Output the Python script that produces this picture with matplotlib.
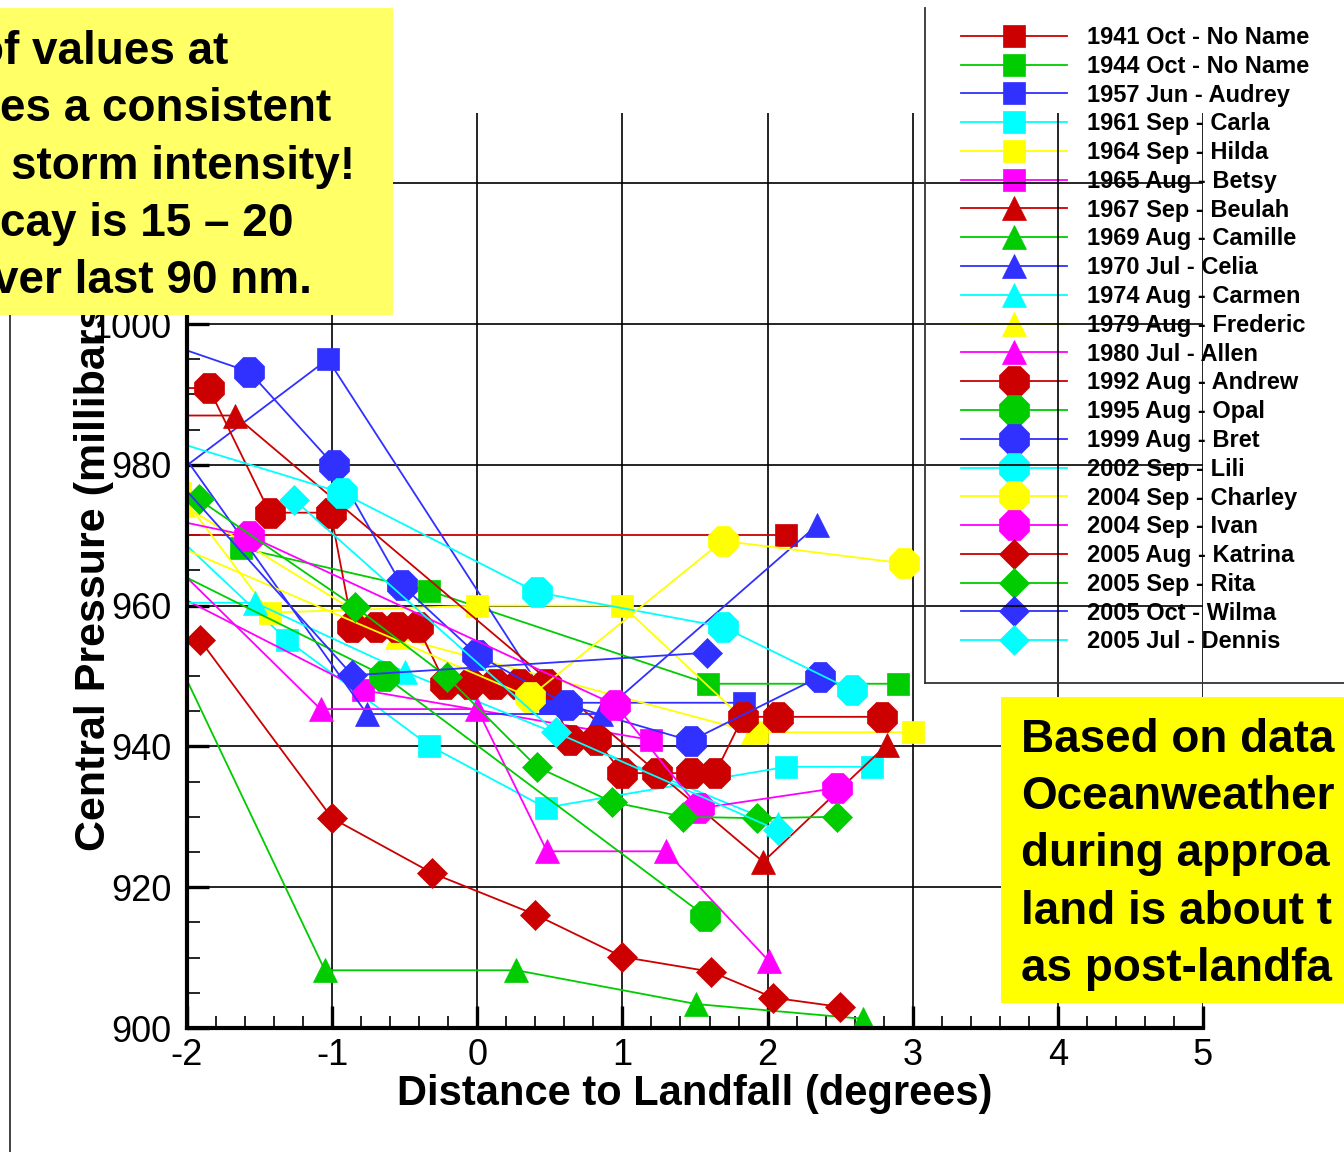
import matplotlib
matplotlib.use("Agg")
import matplotlib.pyplot as plt
from matplotlib.lines import Line2D
from matplotlib.patches import Rectangle
from matplotlib.ticker import MultipleLocator

plt.rcParams["font.family"] = ["Liberation Sans", "DejaVu Sans"]
plt.rcParams["axes.unicode_minus"] = False

W, H = 1344, 1152

RED, GREEN, BLUE = "#cc0000", "#00cc00", "#3030ff"
CYAN, YELLOW, MAGENTA = "#00ffff", "#ffff00", "#ff00ff"

# distance to landfall (degrees) / central pressure (mb)
x_1941 = [-2.15, 2.13]
p_1941 = [970.0, 970.0]
x_1944 = [-1.63, -0.33, 1.59, 2.90]
p_1944 = [968.2, 962.1, 948.9, 948.9]
x_audrey = [-2.15, -1.03, 0.50, 1.84]
p_audrey = [977.6, 995.0, 946.2, 946.2]
x_carla = [-2.15, -1.31, -0.33, 0.47, 2.13, 2.72]
p_carla = [971.4, 955.1, 940.1, 931.3, 937.1, 937.1]
x_hilda = [-2.05, -1.43, 0.0, 1.0, 1.93, 3.0]
p_hilda = [976.0, 959.0, 960.0, 960.0, 942.0, 942.0]
x_betsy = [-2.15, -0.79, 1.20]
p_betsy = [962.3, 948.0, 940.9]
x_beulah = [-2.15, -1.67, 1.97, 2.82]
p_beulah = [987.0, 987.0, 923.6, 940.2]
x_camille = [-2.15, -1.05, 0.27, 1.51, 2.66]
p_camille = [955.9, 908.2, 908.2, 903.4, 901.3]
x_celia = [-2.15, -0.76, 0.85, 2.34]
p_celia = [985.0, 944.6, 944.6, 971.4]
x_carmen = [-2.15, -1.53, -0.50, 2.07]
p_carmen = [960.4, 960.4, 950.6, 929.0]
x_frederic = [-2.03, -0.55, 1.90]
p_frederic = [974.3, 955.5, 942.0]
x_allen = [-2.15, -1.08, 0.0, 0.48, 1.30, 2.01]
p_allen = [967.0, 945.3, 945.3, 925.1, 925.1, 909.5]
x_andrew = [-2.15, -1.85, -1.43, -1.01, -0.86, -0.70, -0.55, -0.41, -0.22,
            -0.05, 0.12, 0.29, 0.47, 0.64, 0.82, 1.00, 1.24, 1.47, 1.64,
            1.83, 2.07, 2.79]
p_andrew = [990.9, 990.9, 973.2, 973.2, 957.0, 957.0, 957.0, 957.0, 948.9,
            948.9, 948.9, 948.9, 948.9, 940.9, 940.9, 936.2, 936.2, 936.2,
            936.2, 944.2, 944.2, 944.2]
x_opal = [-2.15, -0.64, 1.57]
p_opal = [965.5, 950.0, 915.9]
x_bret = [-2.15, -1.57, -0.99, -0.52, 0.0, 0.62, 1.47, 2.36]
p_bret = [997.3, 993.2, 980.0, 962.9, 953.0, 945.9, 940.8, 949.9]
x_lili = [-2.15, -0.93, 0.41, 1.69, 2.58]
p_lili = [983.7, 976.0, 961.9, 957.0, 948.0]
x_charley = [-2.15, 0.36, 1.69, 2.94]
p_charley = [969.2, 947.0, 969.2, 966.0]
x_ivan = [-2.15, -1.57, 0.95, 1.53, 2.48]
p_ivan = [972.4, 969.9, 945.9, 931.2, 934.1]
x_katrina = [-1.91, -1.00, -0.31, 0.40, 1.00, 1.61, 2.04, 2.50]
p_katrina = [955.1, 929.8, 922.0, 916.1, 910.1, 908.0, 904.3, 903.0]
x_rita = [-1.92, -0.84, -0.21, 0.41, 0.93, 1.42, 1.93, 2.48]
p_rita = [975.1, 959.8, 949.9, 937.1, 932.1, 930.0, 929.8, 930.0]
x_wilma = [-2.15, -0.86, 1.58]
p_wilma = [979.7, 950.1, 953.3]
x_dennis = [-1.26, 0.54, 2.07]
p_dennis = [975.0, 942.0, 928.1]

labels = ["1941 Oct - No Name", "1944 Oct - No Name", "1957 Jun - Audrey",
          "1961 Sep - Carla", "1964 Sep - Hilda", "1965 Aug - Betsy",
          "1967 Sep - Beulah", "1969 Aug - Camille", "1970 Jul - Celia",
          "1974 Aug - Carmen", "1979 Aug - Frederic", "1980 Jul - Allen",
          "1992 Aug - Andrew", "1995 Aug - Opal", "1999 Aug - Bret",
          "2002 Sep - Lili", "2004 Sep - Charley", "2004 Sep - Ivan",
          "2005 Aug - Katrina", "2005 Sep - Rita", "2005 Oct - Wilma",
          "2005 Jul - Dennis"]
xs = [x_1941, x_1944, x_audrey, x_carla, x_hilda, x_betsy, x_beulah,
      x_camille, x_celia, x_carmen, x_frederic, x_allen, x_andrew, x_opal,
      x_bret, x_lili, x_charley, x_ivan, x_katrina, x_rita, x_wilma, x_dennis]
ps = [p_1941, p_1944, p_audrey, p_carla, p_hilda, p_betsy, p_beulah,
      p_camille, p_celia, p_carmen, p_frederic, p_allen, p_andrew, p_opal,
      p_bret, p_lili, p_charley, p_ivan, p_katrina, p_rita, p_wilma, p_dennis]

colors = [RED, GREEN, BLUE, CYAN, YELLOW, MAGENTA] * 3 + [RED, GREEN, BLUE, CYAN]
markers = ["s"] * 6 + ["^"] * 6 + ["8"] * 6 + ["D"] * 4
msizes = {"s": 15.5, "^": 17, "8": 23, "D": 15.5}


def fx(px):
    return px / W


def fy(py):
    return 1 - py / H


fig = plt.figure(figsize=(W / 100, H / 100), dpi=100)
ax = fig.add_axes([fx(187), fy(1028), (1203 - 187) / W, (1028 - 112.8) / H])

handles = []
for x, p, c, m, lab in zip(xs, ps, colors, markers, labels):
    ln, = ax.plot(x, p, color=c, lw=1.3, marker=m, ms=msizes[m], mfc=c,
                  mec=c, mew=0.5, label=lab)
    handles.append(ln)

ax.set_xlim(-2, 5)
ax.set_ylim(900, 1030)
ax.set_xticks(range(-2, 6))
ax.set_yticks(range(900, 1021, 20))
ax.xaxis.set_minor_locator(MultipleLocator(0.2))
ax.yaxis.set_minor_locator(MultipleLocator(5))
ax.tick_params(which="major", direction="in", length=16, width=2.4,
               labelsize=26, color="black")
ax.tick_params(axis="y", which="major", pad=11)
ax.tick_params(axis="x", which="major", pad=7)
ax.tick_params(which="minor", direction="in", length=9, width=1.2)
ax.grid(True, which="major", color="black", lw=1.2)
ax.set_axisbelow(True)
for s in ["top", "right"]:
    ax.spines[s].set_visible(False)
for s in ["left", "bottom"]:
    ax.spines[s].set_linewidth(3)

ax.set_xlabel("Distance to Landfall (degrees)", fontsize=30, fontweight="bold")
ax.xaxis.set_label_coords(0.5, -0.05)
ax.set_ylabel("Central Pressure (millibars)", fontsize=31, fontweight="bold")
ax.yaxis.set_label_coords(-0.072, 0.5)

leg = ax.legend(handles=handles, loc="upper left",
                bbox_to_anchor=(fx(961), fy(26)), bbox_transform=fig.transFigure,
                frameon=False, prop=dict(family="Liberation Sans", weight="bold", size=17),
                handlelength=4.5, handletextpad=0.85, labelspacing=0.245,
                borderpad=0, borderaxespad=0, numpoints=1)
leg.set_zorder(0.3)

# frame remnants from the slide
for xx, yy in [([925, 925], [8, 683]), ([925, 1344], [683, 683]), ([10, 10], [300, 1152])]:
    fig.add_artist(Line2D([fx(v) for v in xx], [fy(v) for v in yy],
                          transform=fig.transFigure, color="#333333", lw=1.3))

# yellow note boxes
fig.add_artist(Rectangle((0, fy(315)), 393 / W, (315 - 8) / H, transform=fig.transFigure,
                         facecolor="#ffff66", edgecolor="none", zorder=10))
fig.add_artist(Rectangle((fx(1001), fy(1003)), (1344 - 1001) / W, (1003 - 697) / H,
                         transform=fig.transFigure, facecolor="#ffff00",
                         edgecolor="none", zorder=10))

note_left = [("of values at", -24, 64), ("es a consistent", 0, 121),
             ("storm intensity!", 11, 179), ("cay is 15 – 20", 0, 236),
             ("ver last 90 nm.", -7, 293)]
for txt, px, py in note_left:
    fig.text(fx(px), fy(py), txt, fontsize=33, fontweight="bold",
             va="baseline", ha="left", zorder=11)

note_right = ["Based on data", "Oceanweather", "during approa",
              "land is about t", "as post-landfa"]
for i, txt in enumerate(note_right):
    fig.text(fx(1021), fy(752 + 57.2 * i), txt, fontsize=33, fontweight="bold",
             va="baseline", ha="left", zorder=11)

fig.savefig("out.png", dpi=100)
